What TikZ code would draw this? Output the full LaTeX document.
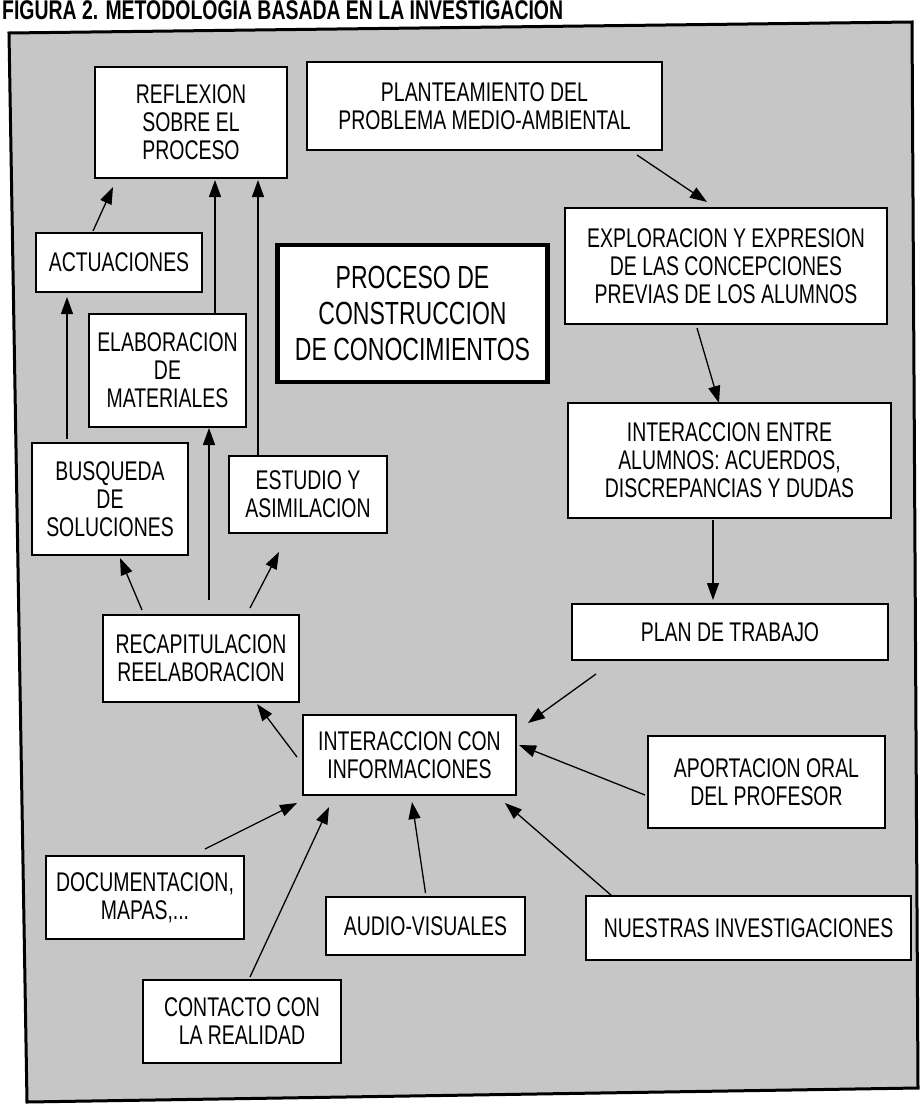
\documentclass[tikz,border=0pt]{standalone}
\usepackage{fontspec}
\setmainfont{Liberation Sans}[FakeStretch=0.72]
\usepackage{tikz}
\usetikzlibrary{arrows.meta}
\definecolor{texgray}{RGB}{198,198,198}
\newcommand{\boxfont}{\fontsize{27}{28}\selectfont}
\newcommand{\bigfont}{\fontsize{32}{36}\selectfont}

\begin{document}
\begin{tikzpicture}[x=1pt, y=-1pt,
  card/.style={draw, fill=white, line width=1.3pt, align=center,
    inner sep=0pt, outer sep=0pt, font=\boxfont},
  arr/.style={-{Triangle[length=17pt,width=12pt]}, line width=1.3pt}]
\useasboundingbox (0,0) rectangle (922,1105);
% Frame and title
\node[anchor=base west, inner sep=0pt, font=\fontsize{27}{28}\selectfont\bfseries]
  (title) at (2,19.5) {FIGURA 2. METODOLOGIA BASADA EN LA INVESTIGACION};
\draw[line width=3pt, fill=texgray] (9,33) -- (912,22) -- (918,1088) -- (27,1102) -- cycle;
% Nodes
\node[card, minimum width=192, minimum height=111] (refl) at (191,122.5)
  {REFLEXION\\SOBRE EL\\PROCESO};
\node[card, minimum width=355, minimum height=88] (plant) at (484.5,106)
  {PLANTEAMIENTO DEL\\PROBLEMA MEDIO-AMBIENTAL};
\node[card, minimum width=166, minimum height=59] (act) at (119,262.5)
  {ACTUACIONES};
\node[card, line width=4.5pt, font=\bigfont, minimum width=270, minimum height=137]
  (proc) at (412.5,313.5) {PROCESO DE\\CONSTRUCCION\\DE CONOCIMIENTOS};
\node[card, minimum width=157, minimum height=113] (elab) at (167.5,370.5)
  {ELABORACION\\DE\\MATERIALES};
\node[card, minimum width=322, minimum height=116] (expl) at (726,266)
  {EXPLORACION Y EXPRESION\\DE LAS CONCEPCIONES\\PREVIAS DE LOS ALUMNOS};
\node[card, minimum width=323, minimum height=115] (intent) at (729.5,460.5)
  {INTERACCION ENTRE\\ALUMNOS: ACUERDOS,\\DISCREPANCIAS Y DUDAS};
\node[card, minimum width=156, minimum height=112] (busq) at (110,499)
  {BUSQUEDA\\DE\\SOLUCIONES};
\node[card, minimum width=158, minimum height=77] (estud) at (308,494.5)
  {ESTUDIO Y\\ASIMILACION};
\node[card, minimum width=316, minimum height=56] (trab) at (730,632)
  {PLAN DE TRABAJO};
\node[card, minimum width=196, minimum height=87] (recap) at (201,658.5)
  {RECAPITULACION\\REELABORACION};
\node[card, minimum width=213, minimum height=80] (intcon) at (409.5,755)
  {INTERACCION CON\\INFORMACIONES};
\node[card, minimum width=237, minimum height=92] (apor) at (766.5,782)
  {APORTACION ORAL\\DEL PROFESOR};
\node[card, minimum width=198, minimum height=83] (doc) at (145,897.5)
  {DOCUMENTACION,\\MAPAS,...};
\node[card, minimum width=199, minimum height=58] (audio) at (425.5,926)
  {AUDIO-VISUALES};
\node[card, minimum width=325, minimum height=64] (nuest) at (748.5,928)
  {NUESTRAS INVESTIGACIONES};
\node[card, minimum width=198, minimum height=83] (cont) at (242,1021.5)
  {CONTACTO CON\\LA REALIDAD};
% Arrows, upper left
\draw[arr] ([xshift=-26pt,yshift=2pt]act.north) -- ([xshift=-78pt,yshift=-9pt]refl.south);
\draw[arr] ([xshift=47.5pt]elab.north) -- ([xshift=24pt,yshift=-2pt]refl.south);
\draw[arr] ([xshift=-50pt]estud.north) -- ([xshift=67pt,yshift=-2pt]refl.south);
\draw[arr] ([xshift=-43pt,yshift=4pt]busq.north) -- ([xshift=-52pt,yshift=-5pt]act.south);
\draw[arr] ([xshift=8pt,yshift=15pt]recap.north) -- ([xshift=41.5pt,yshift=-1pt]elab.south);
\draw[arr] ([xshift=-59pt,yshift=5pt]recap.north) -- ([xshift=10pt,yshift=-3pt]busq.south);
\draw[arr] ([xshift=49pt,yshift=7pt]recap.north) -- ([xshift=-29pt,yshift=-19pt]estud.south);
\draw[arr] ([xshift=-6pt,yshift=-2pt]intcon.west) -- ([xshift=56pt,yshift=-2pt]recap.south);
% Arrows, right column
\draw[arr] ([xshift=152.5pt,yshift=-5pt]plant.south) -- ([xshift=-19pt,yshift=6pt]expl.north);
\draw[arr] ([xshift=-29pt,yshift=-4pt]expl.south) -- ([xshift=-10.5pt]intent.north);
\draw[arr] ([xshift=-16.5pt,yshift=-2pt]intent.south) -- ([xshift=-17pt,yshift=4pt]trab.north);
\draw[arr] ([xshift=-134pt,yshift=-14pt]trab.south) -- ([xshift=12pt,yshift=-8pt]intcon.north east);
\draw[arr] ([xshift=-3pt,yshift=-13pt]apor.west) -- ([xshift=3pt,yshift=10pt]intcon.east);
% Arrows, sources of information
\draw[arr] ([xshift=60pt,yshift=7pt]doc.north) -- ([xshift=-6pt,yshift=-8pt]intcon.south west);
\draw[arr] ([xshift=8pt,yshift=3pt]cont.north) -- ([xshift=-80.5pt,yshift=-12pt]intcon.south);
\draw[arr] ([yshift=4pt]audio.north) -- ([xshift=2.5pt,yshift=-7pt]intcon.south);
\draw[arr] ([xshift=-136.5pt]nuest.north) -- ([xshift=-11pt,yshift=-8pt]intcon.south east);
\end{tikzpicture}
\end{document}
